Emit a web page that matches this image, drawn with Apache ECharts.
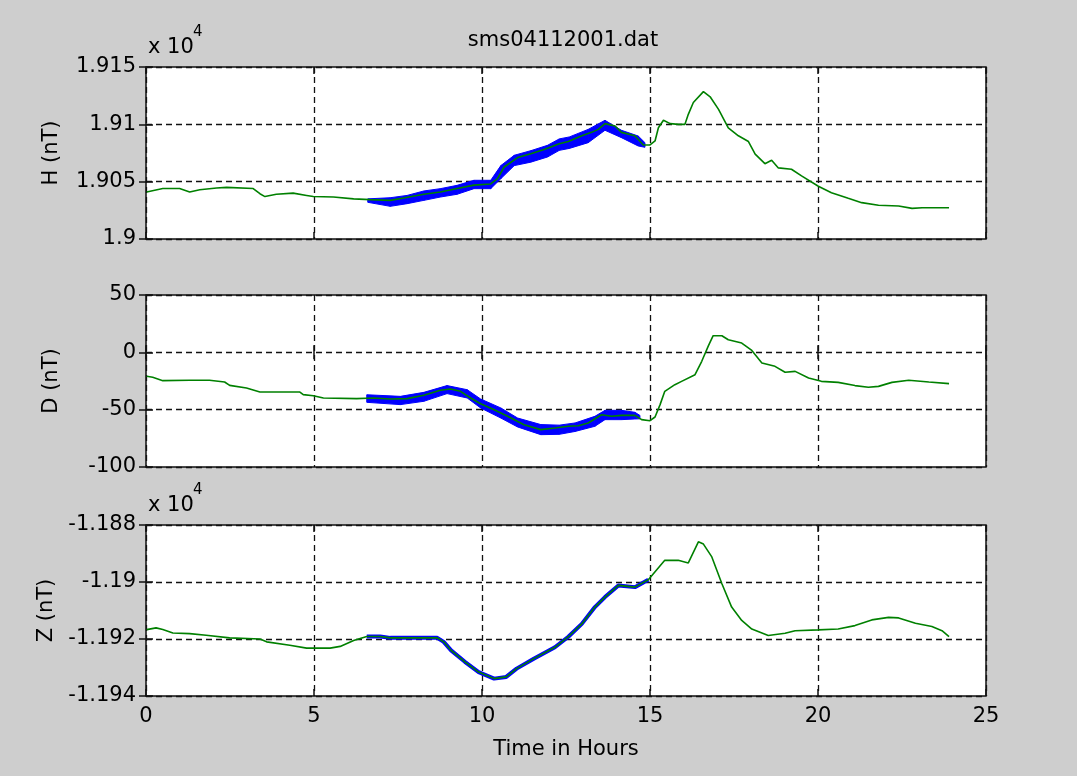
<!DOCTYPE html>
<html>
<head>
<meta charset="utf-8">
<script src="https://cdn.jsdelivr.net/npm/echarts@6/dist/echarts.min.js"></script>
<style>
html,body{margin:0;padding:0;background:#cecece;}
#chart{width:1077px;height:776px;}
</style>
</head>
<body>
<div id="chart"></div>
<script>
// ---------------- DATA ----------------
const titleText = 'sms04112001.dat';
const xTicks = [0, 5, 10, 15, 20, 25];

// H component (nT) - smoothed (green)
const hHours = [0.02,0.5,1.0,1.3,1.6,2.1,2.4,3.19,3.39,3.54,3.88,4.38,4.78,4.98,5.58,6.18,6.67,7.27,7.67,8.27,8.76,9.26,9.76,10.26,10.46,10.66,11.06,11.45,11.85,12.3,12.57,12.97,13.26,13.46,13.66,13.96,14.15,14.55,14.8,15.0,15.15,15.25,15.4,15.6,15.85,16.04,16.14,16.29,16.59,16.79,17.04,17.33,17.63,17.93,18.13,18.42,18.62,18.82,19.21,19.51,20.01,20.4,20.9,21.3,21.8,22.4,22.8,23.1,23.9];
const hValues = [19041,19044,19044,19041,19043,19044.5,19045,19044,19039.5,19037,19039,19040,19038,19037,19036.6,19035,19034.3,19033.7,19035.8,19039,19041,19044,19047,19048,19052.6,19062.8,19071,19074.4,19078,19083,19085,19090,19093,19095.6,19100.6,19098.5,19093,19090,19082,19082,19085.5,19097,19103.5,19100.6,19100,19100,19108.7,19119,19128.5,19124,19113,19097,19090,19085,19074,19065.7,19068.6,19062,19060.8,19055,19046,19040.4,19035.5,19031.7,19029.4,19028.8,19026.7,19027.3,19027.3];
// H raw data spread (blue envelope)
const hBandHours = [6.6,7.27,7.77,8.27,8.76,9.26,9.76,10.26,10.56,10.96,11.45,11.95,12.3,12.6,13.16,13.66,14.15,14.65,14.85];
const hBandLo = [19032,19028.5,19030.8,19033.7,19036.6,19039,19043.9,19043.9,19052.6,19064,19067,19071.5,19077.3,19079,19084,19094.8,19088.4,19081.1,19080];
const hBandHi = [19035,19036,19038,19041.9,19043.9,19046.8,19051.2,19051.2,19064,19073,19077,19081.7,19087.3,19089,19095.6,19103.5,19094.8,19089.8,19084];

// D component (nT)
const dHours = [0.02,0.2,0.5,1.3,1.89,1.94,2.34,2.49,2.99,3.39,4.58,4.68,4.98,5.28,6.27,6.77,7.27,7.77,8.27,8.76,9.06,9.36,9.66,9.96,10.36,10.76,11.25,11.75,12.17,12.57,12.87,13.16,13.56,13.86,14.15,14.55,14.75,15.0,15.15,15.3,15.44,15.74,15.94,16.34,16.54,16.74,16.88,17.14,17.33,17.73,18.03,18.33,18.72,19.02,19.32,19.72,20.1,20.6,21.1,21.5,21.8,22.2,22.7,23.3,23.9];
const dValues = [-20.9,-21.8,-24.7,-24.4,-24.4,-25.9,-25.9,-28.8,-31.1,-34.6,-34.6,-36.9,-37.8,-39.8,-40.4,-39.8,-40.7,-40.4,-37.5,-33.1,-32,-34,-39.8,-44.8,-50,-55.8,-63.1,-67.4,-66,-64.5,-64,-61.6,-54.4,-55.8,-55,-55,-58.7,-59.6,-56.4,-45.6,-34,-28.2,-25.3,-19.5,-7.8,5.8,14.5,14.5,11,8.1,1.7,-9.3,-12.2,-17.4,-16.6,-22.4,-25.3,-26.2,-29,-30.5,-29.7,-26.2,-24.4,-25.9,-27.3];
const dBandHours = [6.57,7.57,8.27,8.96,9.56,9.96,10.56,11.06,11.75,12.3,12.77,13.36,13.66,14.15,14.55,14.7];
const dBandLo = [-43.6,-45.6,-42.7,-36,-39.8,-48.5,-57.3,-65.1,-71.8,-71.5,-69,-64.5,-58.7,-58.7,-58.1,-58];
const dBandHi = [-37,-38.4,-34.9,-29,-32.6,-40.7,-48.5,-57.3,-63,-63.5,-61.6,-55.8,-50.6,-50.6,-52.3,-55];

// Z component (nT)
const zHours = [0.02,0.3,0.5,0.8,1.3,1.79,2.49,3.39,3.59,4.28,4.78,5.48,5.78,6.18,6.57,6.97,7.27,8.67,8.86,9.08,9.49,9.9,10.36,10.72,11.03,11.54,12.17,12.57,12.97,13.36,13.66,14.06,14.55,14.95,15.44,15.84,16.14,16.44,16.59,16.84,17.14,17.43,17.73,18.03,18.52,19.02,19.32,20.01,20.6,21.1,21.6,22.1,22.4,22.9,23.39,23.69,23.9];
const zValues = [-11916.7,-11916.1,-11916.7,-11917.9,-11918.1,-11918.7,-11919.6,-11920,-11921,-11922.2,-11923.2,-11923.2,-11922.6,-11920.5,-11919.1,-11919.1,-11919.6,-11919.6,-11921,-11924,-11928,-11931.6,-11933.9,-11933.3,-11930.4,-11926.9,-11922.9,-11919.2,-11914.7,-11908.8,-11905.3,-11901.2,-11901.8,-11899.2,-11892.4,-11892.4,-11893.3,-11885.9,-11886.7,-11891.2,-11900.6,-11908.8,-11913.5,-11916.5,-11918.8,-11918,-11917.1,-11916.8,-11916.5,-11915.3,-11913.3,-11912.4,-11912.6,-11914.5,-11915.6,-11917.1,-11919.2];
const zBlueRange = [6.5, 15.3];

// axis ranges
const hAxis = {min: 19000, max: 19150, interval: 50, name: 'H (nT)', scale: 1e4};
const dAxis = {min: -100, max: 50, interval: 50, name: 'D (nT)', scale: 1};
const zAxis = {min: -11940, max: -11880, interval: 20, name: 'Z (nT)', scale: 1e4};
const xLabel = 'Time in Hours';

// ---------------- LAYOUT ----------------
const FONT = 'DejaVu Sans';
const FS = 21;
const grids = [
  {left: 146, top: 67, width: 840, height: 172},
  {left: 146, top: 295, width: 840, height: 172},
  {left: 146, top: 525, width: 840, height: 171}
];
const axesCfg = [hAxis, dAxis, zAxis];
const gridLineStyle = {color: '#111', width: 1.3, type: [6, 4]};
const tickStyle = {show: true, inside: true, length: 7, lineStyle: {color: '#111', width: 1.5}};

const xAxes = [], yAxes = [], series = [];
grids.forEach((g, i) => {
  const a = axesCfg[i];
  xAxes.push({
    type: 'value', gridIndex: i, min: 0, max: 25, interval: 5, position: 'bottom',
    axisLine: {show: false}, axisTick: tickStyle,
    splitLine: {show: true, lineStyle: gridLineStyle},
    axisLabel: {show: i === 2, color: '#000', fontFamily: FONT, fontSize: FS, margin: 10},
    name: i === 2 ? xLabel : '', nameLocation: 'middle', nameGap: 43,
    nameTextStyle: {color: '#000', fontFamily: FONT, fontSize: FS}
  });
  xAxes.push({
    type: 'value', gridIndex: i, min: 0, max: 25, interval: 5, position: 'top',
    axisLine: {show: false}, axisTick: tickStyle, splitLine: {show: false}, axisLabel: {show: false}
  });
  yAxes.push({
    type: 'value', gridIndex: i, min: a.min, max: a.max, interval: a.interval, position: 'left',
    axisLine: {show: false}, axisTick: tickStyle,
    splitLine: {show: true, lineStyle: gridLineStyle},
    axisLabel: {color: '#000', fontFamily: FONT, fontSize: FS, margin: 10,
      formatter: v => String(parseFloat((v / a.scale).toFixed(4)))},
    name: a.name, nameLocation: 'middle', nameGap: 84, nameRotate: 90,
    nameTextStyle: {color: '#000', fontFamily: FONT, fontSize: FS}
  });
  yAxes.push({
    type: 'value', gridIndex: i, min: a.min, max: a.max, interval: a.interval, position: 'right',
    axisLine: {show: false}, axisTick: tickStyle, splitLine: {show: false}, axisLabel: {show: false}
  });
});

function zip(xs, ys) { return xs.map((x, k) => [x, ys[k]]); }

function bandSeries(i, hrs, lo, hi) {
  const data = [];
  for (let k = 0; k < hrs.length - 1; k++) {
    data.push([hrs[k], lo[k], hi[k], hrs[k + 1], lo[k + 1], hi[k + 1]]);
  }
  return {
    type: 'custom', xAxisIndex: 2 * i, yAxisIndex: 2 * i, silent: true, z: 3, clip: true,
    encode: {x: [0, 3], y: [1, 2, 4, 5]},
    data,
    renderItem: (params, api) => {
      const a = api.coord([api.value(0), api.value(1)]);
      const b = api.coord([api.value(3), api.value(4)]);
      const c = api.coord([api.value(3), api.value(5)]);
      const d = api.coord([api.value(0), api.value(2)]);
      return {type: 'polygon', shape: {points: [a, b, c, d]},
        style: {fill: '#0000ff', stroke: '#0000ff', lineWidth: 1}};
    }
  };
}

function lineSeries(i, hrs, vals, color, width, z) {
  return {
    type: 'line', xAxisIndex: 2 * i, yAxisIndex: 2 * i, data: zip(hrs, vals),
    showSymbol: false, symbol: 'none', silent: true, z,
    lineStyle: {color, width}, itemStyle: {color}, animation: false
  };
}

series.push(bandSeries(0, hBandHours, hBandLo, hBandHi));
series.push(lineSeries(0, hHours, hValues, '#008000', 1.6, 5));
series.push(bandSeries(1, dBandHours, dBandLo, dBandHi));
series.push(lineSeries(1, dHours, dValues, '#008000', 1.6, 5));
const zbIdx = zHours.map((h, k) => k).filter(k => zHours[k] >= zBlueRange[0] && zHours[k] <= zBlueRange[1]);
series.push(lineSeries(2, zbIdx.map(k => zHours[k]), zbIdx.map(k => zValues[k]), '#0000ff', 4, 3));
series.push(lineSeries(2, zHours, zValues, '#008000', 1.6, 5));

const chart = echarts.init(document.getElementById('chart'), null, {renderer: 'canvas'});
chart.setOption({
  animation: false,
  backgroundColor: '#cecece',
  grid: grids.map(g => Object.assign({show: true, backgroundColor: '#ffffff', borderColor: '#111', borderWidth: 1.5}, g)),
  xAxis: xAxes,
  yAxis: yAxes,
  series,
  graphic: [
    {type: 'text', x: 563, y: 41, style: {text: titleText, fill: '#000', font: FS + 'px "' + FONT + '"', textAlign: 'center', textVerticalAlign: 'middle'}},
    {type: 'text', x: 148, y: 48, style: {text: 'x 10', fill: '#000', font: FS + 'px "' + FONT + '"', textAlign: 'left', textVerticalAlign: 'middle'}},
    {type: 'text', x: 193, y: 32, style: {text: '4', fill: '#000', font: '15px "' + FONT + '"', textAlign: 'left', textVerticalAlign: 'middle'}},
    {type: 'text', x: 148, y: 506, style: {text: 'x 10', fill: '#000', font: FS + 'px "' + FONT + '"', textAlign: 'left', textVerticalAlign: 'middle'}},
    {type: 'text', x: 193, y: 490, style: {text: '4', fill: '#000', font: '15px "' + FONT + '"', textAlign: 'left', textVerticalAlign: 'middle'}}
  ]
});
</script>
</body>
</html>
